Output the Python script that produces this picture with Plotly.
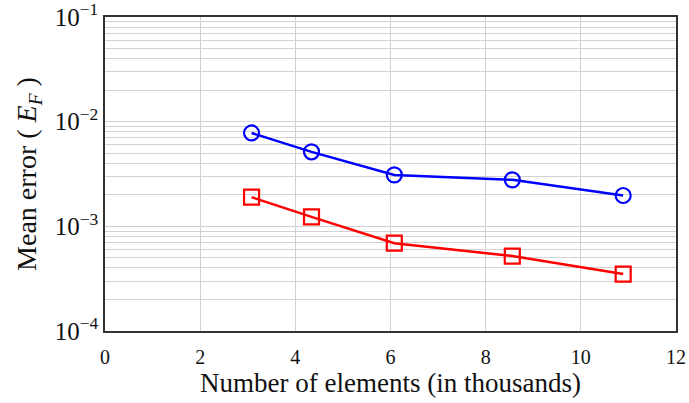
import plotly.graph_objects as go

# Number of elements (in thousands)
elements = [3.08, 4.34, 6.08, 8.56, 10.89]
# Mean error for the two methods
error_circle = [7.8e-3, 5.15e-3, 3.1e-3, 2.78e-3, 1.97e-3]
error_square = [1.9e-3, 1.23e-3, 6.9e-4, 5.2e-4, 3.5e-4]

y_tickvals = [1e-4, 1e-3, 1e-2, 1e-1]
y_ticktext = ["10<sup>\u22124</sup>", "10<sup>\u22123</sup>", "10<sup>\u22122</sup>", "10<sup>\u22121</sup>"]
x_tickvals = [0, 2, 4, 6, 8, 10, 12]

font_family = "Liberation Serif, Times New Roman, serif"
grid_color = "#d2d2d2"
text_color = "#111111"

fig = go.Figure()
fig.add_trace(go.Scatter(
    x=elements, y=error_circle, mode="lines+markers",
    line=dict(color="#0000ff", width=2.5),
    marker=dict(symbol="circle-open", size=15, color="#0000ff", line=dict(width=2.2)),
    showlegend=False,
))
fig.add_trace(go.Scatter(
    x=elements, y=error_square, mode="lines+markers",
    line=dict(color="#ff0000", width=2.5),
    marker=dict(symbol="square-open", size=15, color="#ff0000", line=dict(width=2.2)),
    showlegend=False,
))

fig.update_layout(
    width=689, height=403,
    margin=dict(l=105, r=13, t=17, b=72),
    paper_bgcolor="white", plot_bgcolor="white",
    font=dict(family=font_family, size=20, color=text_color),
    xaxis=dict(
        range=[0, 12], tickvals=x_tickvals,
        showgrid=True, gridcolor=grid_color, gridwidth=1.2,
        showline=True, linecolor="#333333", linewidth=1.5, mirror=True,
        # invisible ticks keep the labels a little below the frame
        ticks="outside", ticklen=7, tickcolor="rgba(0,0,0,0)",
        zeroline=False, automargin=False, ticklabeloverflow="allow",
        tickfont=dict(size=20, color=text_color),
        title=dict(text="Number of elements (in thousands)",
                   font=dict(size=27, color=text_color), standoff=4),
    ),
    yaxis=dict(
        type="log", range=[-4, -1],
        tickvals=y_tickvals, ticktext=y_ticktext,
        showgrid=True, gridcolor=grid_color, gridwidth=1.2,
        minor=dict(dtick="D1", showgrid=True, gridcolor=grid_color, gridwidth=1.2, ticks=""),
        showline=True, linecolor="#333333", linewidth=1.5, mirror=True,
        ticks="", zeroline=False, automargin=False, ticklabeloverflow="allow",
        tickfont=dict(size=25, color=text_color),
        title=dict(text="Mean error ( <i>E</i><sub><i>F</i></sub> )",
                   font=dict(size=28, color=text_color), standoff=10),
    ),
)

fig.write_html("out.html")
